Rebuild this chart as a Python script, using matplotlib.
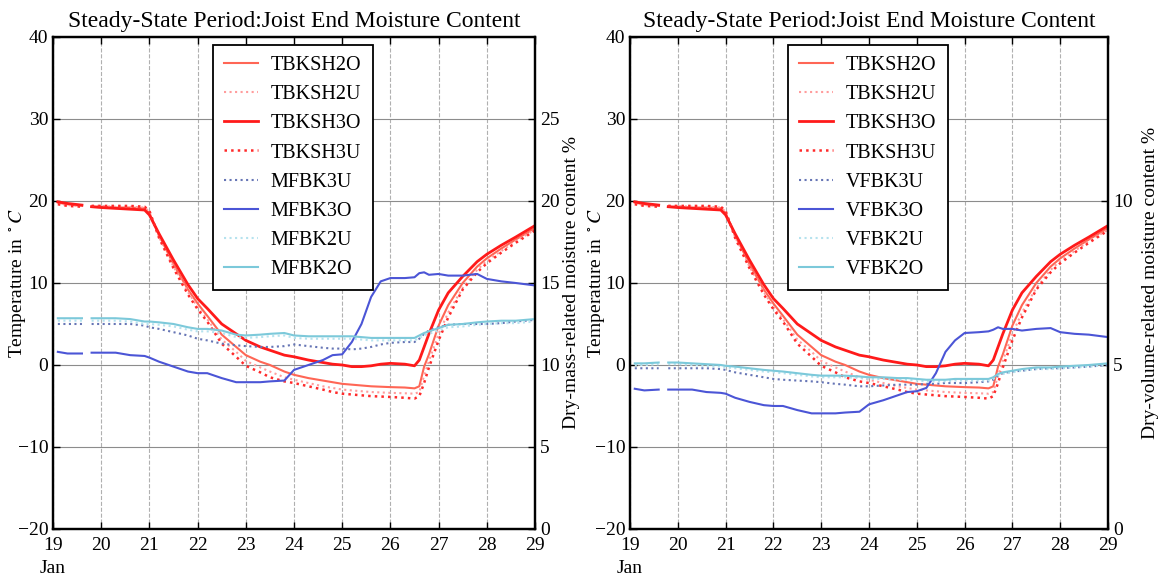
import numpy as np
import matplotlib
matplotlib.use('Agg')
import matplotlib.pyplot as plt
import matplotlib.transforms as mtransforms

plt.rcParams['font.family'] = ['Liberation Serif', 'DejaVu Serif']
plt.rcParams['mathtext.fontset'] = 'stix'

# day of January (nan marks the logging gap)
days = [19.1, 19.3, 19.6, 19.7, 19.8, 20.0, 20.3, 20.6, 20.9, 21.0, 21.2, 21.5, 21.8,
        22.0, 22.2, 22.5, 22.8, 23.0, 23.3, 23.5, 23.8, 24.0, 24.3, 24.6, 24.8,
        25.0, 25.2, 25.4, 25.6, 25.8, 26.0, 26.3, 26.5, 26.6, 26.7, 26.8,
        27.0, 27.2, 27.5, 27.8, 28.0, 28.3, 28.6, 29.0]
nan = np.nan

# temperatures (deg C)
tbksh2o = [19.8, 19.6, 19.4, nan, 19.3, 19.3, 19.2, 19.2, 19.1, 18.5, 15.8, 12.3, 9.2,
           7.5, 6.0, 3.7, 2.2, 1.2, 0.4, 0.0, -0.8, -1.2, -1.6, -1.9, -2.1,
           -2.3, -2.4, -2.5, -2.6, -2.65, -2.7, -2.75, -2.85, -2.6, -0.2, 1.3,
           4.8, 7.3, 10.0, 12.0, 13.0, 14.2, 15.3, 16.7]
tbksh2u = [19.7, 19.5, 19.4, nan, 19.4, 19.4, 19.3, 19.3, 19.2, 18.7, 15.6, 12.0, 8.9,
           7.1, 5.6, 3.1, 1.6, 0.5, -0.3, -0.8, -1.5, -1.8, -2.2, -2.6, -2.8,
           -3.0, -3.1, -3.2, -3.3, -3.35, -3.4, -3.45, -3.5, -3.3, -1.3, 0.5,
           3.8, 6.4, 9.4, 11.6, 12.7, 13.9, 15.1, 16.5]
tbksh3o = [19.9, 19.7, 19.5, nan, 19.3, 19.2, 19.1, 19.0, 18.9, 18.3, 16.0, 12.8, 9.8,
           8.1, 6.9, 5.0, 3.8, 3.0, 2.2, 1.8, 1.2, 1.0, 0.6, 0.3, 0.1,
           0.0, -0.2, -0.2, -0.1, 0.1, 0.2, 0.1, -0.1, 0.6, 2.2, 3.8,
           6.7, 8.8, 10.8, 12.6, 13.5, 14.6, 15.6, 17.0]
tbksh3u = [19.6, 19.4, 19.3, nan, 19.4, 19.4, 19.4, 19.4, 19.3, 18.8, 15.5, 11.8, 8.6,
           6.8, 5.3, 2.6, 1.0, -0.1, -0.9, -1.5, -2.0, -2.2, -2.6, -3.0, -3.3,
           -3.5, -3.6, -3.7, -3.8, -3.85, -3.9, -4.0, -4.1, -3.8, -2.2, -0.3,
           3.0, 5.8, 9.2, 11.3, 12.4, 13.7, 14.9, 16.4]

# dry-mass-related moisture content (%)
mfbk3u = [12.5, 12.5, 12.5, nan, 12.5, 12.5, 12.5, 12.5, 12.4, 12.3, 12.2, 12.0, 11.8,
          11.6, 11.5, 11.3, 11.2, 11.15, 11.1, 11.1, 11.15, 11.25, 11.15, 11.05, 11.0,
          11.0, 10.95, 11.0, 11.1, 11.25, 11.35, 11.4, 11.4, 11.6, 11.9, 12.1,
          12.3, 12.45, 12.5, 12.5, 12.5, 12.55, 12.65, 12.75]
mfbk3o = [10.8, 10.7, 10.7, nan, 10.75, 10.75, 10.75, 10.6, 10.55, 10.45, 10.2, 9.9, 9.6,
          9.5, 9.5, 9.2, 8.95, 8.95, 8.95, 9.0, 9.05, 9.7, 10.0, 10.3, 10.6,
          10.65, 11.4, 12.5, 14.15, 15.1, 15.3, 15.3, 15.35, 15.6, 15.65, 15.5,
          15.55, 15.45, 15.45, 15.55, 15.25, 15.1, 15.0, 14.85]
mfbk2u = [12.7, 12.7, 12.7, nan, 12.7, 12.7, 12.7, 12.65, 12.5, 12.5, 12.45, 12.35, 12.15,
          12.05, 12.05, 11.95, 11.7, 11.65, 11.7, 11.75, 11.8, 11.65, 11.6, 11.6, 11.6,
          11.6, 11.6, 11.55, 11.5, 11.5, 11.5, 11.5, 11.5, 11.65, 11.8, 11.9,
          12.1, 12.3, 12.35, 12.45, 12.5, 12.55, 12.55, 12.65]
mfbk2o = [12.85, 12.85, 12.85, nan, 12.85, 12.85, 12.85, 12.8, 12.65, 12.65, 12.6, 12.5, 12.3,
          12.2, 12.2, 12.1, 11.85, 11.8, 11.85, 11.9, 11.95, 11.8, 11.75, 11.75, 11.75,
          11.75, 11.75, 11.7, 11.65, 11.65, 11.65, 11.65, 11.65, 11.8, 11.95, 12.05,
          12.25, 12.45, 12.5, 12.6, 12.65, 12.7, 12.7, 12.8]

# dry-volume-related moisture content (%)
vfbk3u = [4.9, 4.9, 4.9, nan, 4.9, 4.9, 4.9, 4.9, 4.875, 4.85, 4.775, 4.7, 4.625,
          4.575, 4.55, 4.525, 4.5, 4.475, 4.425, 4.4, 4.35, 4.35, 4.375, 4.4, 4.4,
          4.4, 4.425, 4.425, 4.45, 4.45, 4.45, 4.475, 4.5, 4.55, 4.675, 4.75,
          4.8, 4.825, 4.875, 4.9, 4.9, 4.925, 4.95, 5.0]
vfbk3o = [4.275, 4.225, 4.25, nan, 4.25, 4.25, 4.25, 4.175, 4.15, 4.125, 4.0, 3.875, 3.775,
          3.75, 3.75, 3.625, 3.525, 3.525, 3.525, 3.55, 3.575, 3.8, 3.925, 4.075, 4.175,
          4.2, 4.3, 4.75, 5.4, 5.75, 5.975, 6.0, 6.025, 6.075, 6.15, 6.1,
          6.1, 6.05, 6.1, 6.125, 6.0, 5.95, 5.925, 5.85]
vfbk2u = [5.0, 5.0, 5.025, nan, 5.025, 5.025, 5.0, 4.975, 4.95, 4.925, 4.9, 4.85, 4.8,
          4.775, 4.75, 4.7, 4.65, 4.625, 4.625, 4.625, 4.6, 4.575, 4.575, 4.55, 4.55,
          4.525, 4.5, 4.5, 4.5, 4.525, 4.525, 4.525, 4.525, 4.575, 4.675, 4.725,
          4.775, 4.825, 4.875, 4.875, 4.9, 4.925, 4.95, 5.0]
vfbk2o = [5.05, 5.05, 5.075, nan, 5.075, 5.075, 5.05, 5.025, 5.0, 4.975, 4.95, 4.9, 4.85,
          4.825, 4.8, 4.75, 4.7, 4.675, 4.675, 4.675, 4.65, 4.625, 4.625, 4.6, 4.6,
          4.575, 4.55, 4.55, 4.55, 4.575, 4.575, 4.575, 4.575, 4.625, 4.725, 4.775,
          4.825, 4.875, 4.925, 4.925, 4.95, 4.975, 5.0, 5.05]

title = 'Steady-State Period:Joist End Moisture Content'

fig = plt.figure(figsize=(11.63, 5.79), dpi=100)


def panel(rect, prefix, m3u, m3o, m2u, m2o, mlabel, mmax, mticks, lx, rx):
    ax = fig.add_axes(rect)
    ax2 = ax.twinx()
    h = []
    h += ax.plot(days, tbksh2o, color='#ff6655', lw=1.5, label='TBKSH2O')
    h += ax.plot(days, tbksh2u, color='#ff9c9c', lw=1.5, ls=':', label='TBKSH2U')
    h += ax.plot(days, tbksh3o, color='#ff1a1a', lw=2.0, label='TBKSH3O')
    h += ax.plot(days, tbksh3u, color='#ff2a2a', lw=1.8, ls=':', label='TBKSH3U')
    h += ax2.plot(days, m3u, color='#6675b5', lw=1.5, ls=':', label=prefix + '3U')
    h += ax2.plot(days, m3o, color='#4b55d6', lw=1.5, label=prefix + '3O')
    h += ax2.plot(days, m2u, color='#b5e2ee', lw=1.5, ls=':', label=prefix + '2U')
    h += ax2.plot(days, m2o, color='#7cc9da', lw=1.5, label=prefix + '2O')

    ax.set_xlim(19, 29)
    ax.set_ylim(-20, 40)
    ax.set_xticks(range(19, 30))
    ax.set_yticks(range(-20, 41, 10))
    ax.set_yticklabels(['\u221220', '\u221210', '0', '10', '20', '30', '40'])
    ax2.set_ylim(0, mmax)
    ax2.set_yticks(mticks)

    ax.grid(True, axis='y', color='#8c8c8c', lw=0.8, ls='-')
    ax.grid(True, axis='x', color='#b0b0b0', lw=0.8, ls='--')
    for a in (ax, ax2):
        a.tick_params(direction='in', labelsize=14, length=5, width=1)
        for s in a.spines.values():
            s.set_linewidth(1.6)
    ax.tick_params(axis='x', top=True, pad=6)
    ax.set_title(title, fontsize=17, pad=7)
    # label anchor is the edge of the text nearest the axes
    ax.set_ylabel('Temperature in $^\\circ C$', fontsize=14)
    ax.yaxis.set_label_coords(lx, 0.5)
    ax2.set_ylabel(mlabel, fontsize=14)
    ax2.yaxis.set_label_coords(rx, 0.5)
    trans = mtransforms.blended_transform_factory(ax.transData, ax.transAxes)
    ax.text(19.0, -0.08, 'Jan', transform=trans, fontsize=14, ha='center', va='center')

    leg = ax2.legend(h, [l.get_label() for l in h], loc='upper center',
                     bbox_to_anchor=(0.497, 0.984), borderaxespad=0,
                     fontsize=14.5, labelspacing=0.5, handlelength=1.7,
                     handletextpad=0.65, borderpad=0.55, fancybox=False,
                     framealpha=1, edgecolor='black')
    leg.get_frame().set_linewidth(1.3)
    return ax


panel([0.0456, 0.0864, 0.4144, 0.8497], 'MFBK', mfbk3u, mfbk3o, mfbk2u, mfbk2o,
      'Dry-mass-related moisture content %', 30, [0, 5, 10, 15, 20, 25], -0.052, 1.058)
panel([0.5417, 0.0864, 0.411, 0.8497], 'VFBK', vfbk3u, vfbk3o, vfbk2u, vfbk2o,
      'Dry-volume-related moisture content %', 15, [0, 5, 10], -0.048, 1.071)

fig.savefig('out.png', dpi=100)
